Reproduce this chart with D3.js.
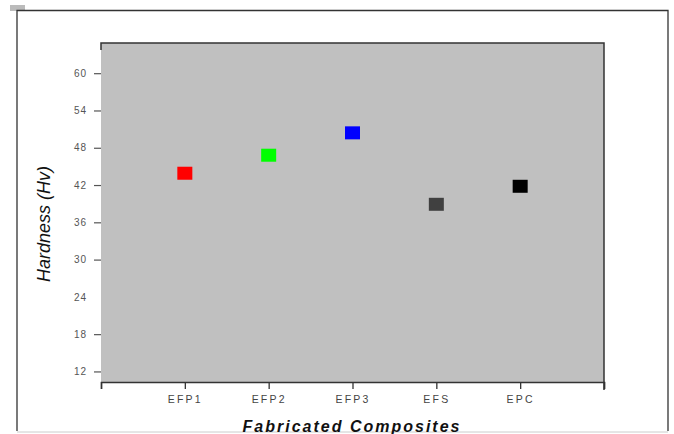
<!DOCTYPE html>
<html><head><meta charset="utf-8">
<script src="https://cdn.jsdelivr.net/npm/d3@7"></script>
<style>body{margin:0;background:#fff}svg{display:block}</style>
</head><body>
<svg id="c" width="674" height="434"></svg>
<script>
const categories = ["EFP1","EFP2","EFP3","EFS","EPC"];
const hardness = [43.9, 46.8, 50.4, 38.9, 41.8];
const colors = ["#ff0000","#00ff00","#0000ff","#404040","#000000"];
const yTicks = [12,18,24,30,36,42,48,54,60];

const svg = d3.select("#c");
const L = 101, R = 604, T = 43, B = 382;
const x = d3.scaleLinear().domain([0,6]).range([L,R]);
const y = d3.scaleLinear().domain([10.3,64.86]).range([B,T]);

// outer frame
svg.append("rect").attr("x",10).attr("y",5).attr("width",15).attr("height",6).attr("fill","#bbb");
svg.append("path").attr("d","M17,431V10.5H668V431").attr("fill","none").attr("stroke","#333").attr("stroke-width",1.3);
svg.append("line").attr("x1",17).attr("x2",668).attr("y1",432).attr("y2",432).attr("stroke","#ccc");

// plot background
svg.append("rect").attr("x",L).attr("y",T).attr("width",R-L).attr("height",B-T).attr("fill","#c0c0c0");
svg.append("path").attr("d",`M${L},${T+7}V${T}H${R}V${B+8}`).attr("fill","none").attr("stroke","#333").attr("stroke-width",1.5);

// x axis
const xa = svg.append("g").attr("transform",`translate(0,${B})`)
  .call(d3.axisBottom(x).tickValues([0,1,2,3,4,5,6]).tickSizeOuter(0).tickSize(7).tickPadding(7)
    .tickFormat(d => (d>=1 && d<=5) ? categories[d-1] : ""));
xa.select(".domain").attr("stroke","#333").attr("stroke-width",1.5);
xa.selectAll(".tick line").attr("stroke","#333").attr("stroke-width",1.3);
xa.selectAll("text").attr("font-family","Arial, 'Liberation Sans', sans-serif").attr("font-size",10.5)
  .attr("fill","#444").attr("letter-spacing","2.2px");

// y axis
const ya = svg.append("g").attr("transform",`translate(${L},0)`)
  .call(d3.axisLeft(y).tickValues(yTicks).tickSize(7).tickPadding(7));
ya.select(".domain").remove();
ya.selectAll(".tick line").attr("stroke","#555").attr("stroke-width",1.2)
  .attr("opacity", d => d===24 ? 0 : 1);
ya.selectAll("text").attr("font-family","Arial, 'Liberation Sans', sans-serif").attr("font-size",10)
  .attr("fill","#555").attr("letter-spacing","1px");

// markers
svg.append("g").selectAll("rect").data(hardness).join("rect")
  .attr("x",(d,i)=>x(i+1)-7.5).attr("y",d=>y(d)-6.5)
  .attr("width",15).attr("height",13).attr("fill",(d,i)=>colors[i]);

// titles
svg.append("text").attr("transform","translate(50,224) rotate(-90)").attr("text-anchor","middle")
  .attr("font-family","Arial, 'Liberation Sans', sans-serif").attr("font-style","italic")
  .attr("font-size",18).attr("fill","#111").text("Hardness (Hv)");
svg.append("text").attr("x",352).attr("y",432).attr("text-anchor","middle")
  .attr("font-family","Arial, 'Liberation Sans', sans-serif").attr("font-style","italic").attr("font-weight","bold")
  .attr("font-size",16).attr("letter-spacing","2px").attr("fill","#111").text("Fabricated Composites");
</script>
</body></html>
